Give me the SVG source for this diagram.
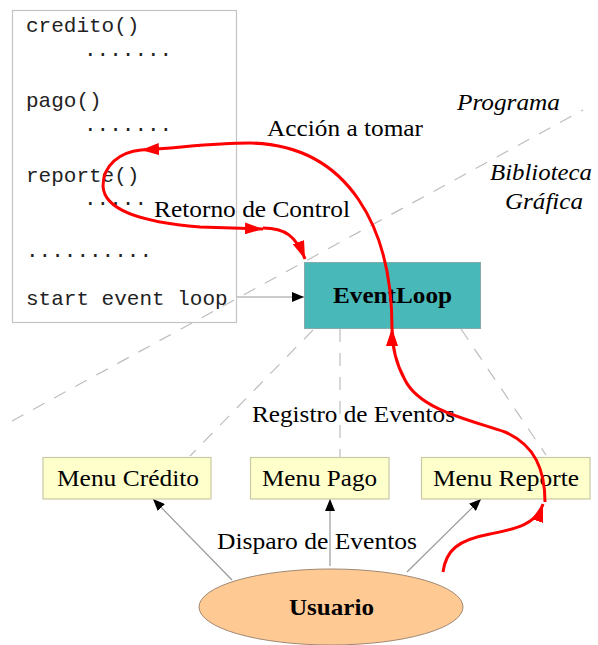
<svg xmlns="http://www.w3.org/2000/svg" width="598" height="645" viewBox="0 0 598 645">
<style>
.code{font-family:"Liberation Mono","Courier New",monospace;font-size:21px;fill:#222}
.lbl{font-family:"Liberation Serif","Times New Roman",serif;font-size:24px;fill:#000}
.it{font-style:italic}
.b{font-weight:bold}
.dash{stroke:#bdbdbd;stroke-width:1.2;stroke-dasharray:13 11;fill:none}
.conn{stroke:#9a9a9a;stroke-width:1.2;fill:none}
.red{stroke:#ff0000;stroke-width:3;fill:none}
.menu{fill:#ffffcc;stroke:#c9c9a6;stroke-width:1.2}
</style>
<defs>
<marker id="ab" viewBox="0 0 12 10" refX="12" refY="5" markerWidth="12" markerHeight="10" markerUnits="userSpaceOnUse" orient="auto">
<path d="M0,0 L12,5 L0,10 Z" fill="#000"/>
</marker>
<marker id="ar" viewBox="0 0 18 12" refX="18" refY="6" markerWidth="18" markerHeight="12" markerUnits="userSpaceOnUse" orient="auto">
<path d="M0,0 L18,6 L0,12 Z" fill="#ff0000"/>
</marker>
</defs>
<rect width="598" height="645" fill="#fff"/>

<g id="programa">
<rect x="12.5" y="10.5" width="224" height="312" fill="#fff" stroke="#c4c4c4" stroke-width="1.2"/>
<text class="code" x="26" y="32">credito()</text>
<text class="code" x="84" y="56">.......</text>
<text class="code" x="26" y="107">pago()</text>
<text class="code" x="84" y="131">.......</text>
<text class="code" x="26" y="182">reporte()</text>
<text class="code" x="84" y="205">.....</text>
<text class="code" x="26" y="257">..........</text>
<text class="code" x="26" y="305">start event loop</text>
</g>

<g id="connectors">
<line class="dash" x1="12" y1="421" x2="583" y2="110"/>
<line class="dash" x1="313" y1="330" x2="190" y2="456"/>
<line class="dash" x1="340" y1="329" x2="340" y2="457"/>
<line class="dash" x1="461" y1="329" x2="546" y2="455"/>
<line class="conn" x1="237" y1="297" x2="304" y2="297" marker-end="url(#ab)"/>
<line class="conn" x1="232" y1="580" x2="153" y2="499" marker-end="url(#ab)"/>
<line class="conn" x1="330" y1="566" x2="330" y2="499" marker-end="url(#ab)"/>
<line class="conn" x1="407" y1="572" x2="481" y2="499" marker-end="url(#ab)"/>
</g>

<g id="eventloop">
<rect x="304.5" y="262.5" width="176" height="66" fill="#48b8b8" stroke="#8aa" stroke-width="1"/>
<text class="lbl b" x="333" y="303" textLength="119" lengthAdjust="spacingAndGlyphs">EventLoop</text>
</g>

<g id="menu-credito">
<rect class="menu" x="43" y="457.5" width="168" height="41.5"/>
<text class="lbl" x="57" y="486" textLength="142" lengthAdjust="spacingAndGlyphs">Menu Crédito</text>
</g>
<g id="menu-pago">
<rect class="menu" x="250.5" y="457.5" width="138.5" height="41.5"/>
<text class="lbl" x="262" y="486" textLength="115" lengthAdjust="spacingAndGlyphs">Menu Pago</text>
</g>
<g id="menu-reporte">
<rect class="menu" x="421.5" y="457.5" width="168.5" height="41.5"/>
<text class="lbl" x="433" y="486" textLength="146" lengthAdjust="spacingAndGlyphs">Menu Reporte</text>
</g>

<g id="usuario">
<ellipse cx="331" cy="607" rx="132" ry="38" fill="#ffc994" stroke="#a08870" stroke-width="1"/>
<text class="lbl b" x="289" y="615" textLength="85" lengthAdjust="spacingAndGlyphs">Usuario</text>
</g>

<g id="labels">
<text class="lbl" x="267" y="136" textLength="156" lengthAdjust="spacingAndGlyphs">Acción a tomar</text>
<text class="lbl" x="154" y="217" textLength="196" lengthAdjust="spacingAndGlyphs">Retorno de Control</text>
<text class="lbl" x="252" y="422" textLength="203" lengthAdjust="spacingAndGlyphs">Registro de Eventos</text>
<text class="lbl" x="217" y="549" textLength="200" lengthAdjust="spacingAndGlyphs">Disparo de Eventos</text>
<text class="lbl it" x="457" y="110" textLength="103" lengthAdjust="spacingAndGlyphs">Programa</text>
<text class="lbl it" x="490" y="180" textLength="102" lengthAdjust="spacingAndGlyphs">Biblioteca</text>
<text class="lbl it" x="505" y="209" textLength="78" lengthAdjust="spacingAndGlyphs">Gráfica</text>
</g>

<g id="flow">
<path class="red" d="M392,328 C392,230 350,145 250,143 C210,143 180,148 141,150" marker-end="url(#ar)"/>
<path class="red" d="M141,150 C120,152 103,165 103,186 C104,210 140,222 200,227 L263,229" marker-end="url(#ar)"/>
<path class="red" d="M263,228 C285,228 296,236 305,259" marker-end="url(#ar)"/>
<path class="red" d="M545,502 C545,470 535,445 505,432 C470,420 420,410 405,380 C395,362 392,345 392,328" marker-end="url(#ar)"/>
<path class="red" d="M443,572 C446,550 458,540 490,534 C515,529 536,525 543,504" marker-end="url(#ar)"/>
</g>
</svg>
